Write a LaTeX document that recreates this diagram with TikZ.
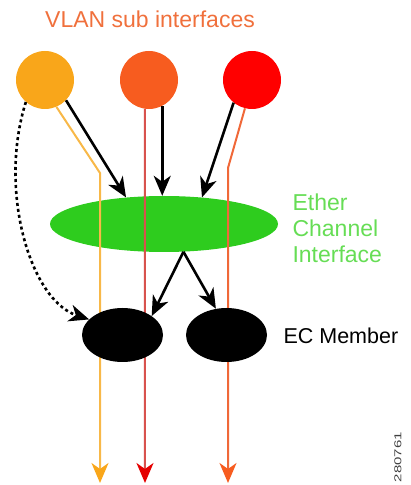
\documentclass[tikz,border=0pt]{standalone}
\usepackage{fontspec}
\setmainfont{Liberation Sans}
\usetikzlibrary{shapes.geometric,arrows.meta}

\definecolor{vlanyellow}{HTML}{F9A61A}
\definecolor{vlanorange}{HTML}{F75C1F}
\definecolor{vlanred}{HTML}{FF0000}
\definecolor{titleorange}{HTML}{F0703C}
\definecolor{ethergreen}{HTML}{2ECC1E}
\definecolor{textgreen}{HTML}{66DD55}
\definecolor{lineyellow}{HTML}{F8B848}
\definecolor{linered}{HTML}{D8524E}
\definecolor{lineorange}{HTML}{F06838}

\tikzset{
  vlan/.style={circle, minimum size=58pt, inner sep=0pt},
  member/.style={ellipse, fill=black, minimum width=81pt, minimum height=54pt, inner sep=0pt},
  flow/.style={black, line width=2.6pt, -{Stealth[length=20pt, width=17pt, inset=6pt]}},
  path/.style={line width=2pt},
}

\begin{document}
\begin{tikzpicture}[x=1pt, y=1pt]
\useasboundingbox (0,0) rectangle (410,485);
% title
    \node[text=titleorange, font=\fontsize{23}{28}\selectfont] (title) at (150,466) {VLAN sub interfaces};
    % sub interfaces
    \node[vlan, fill=vlanyellow] (vlanA) at (45,405) {};
    \node[vlan, fill=vlanorange] (vlanB) at (149,405) {};
    \node[vlan, fill=vlanred] (vlanC) at (252,405) {};
    % ether channel
    \node[ellipse, fill=ethergreen, minimum width=228pt, minimum height=56pt, inner sep=0pt] (ether) at (164,261) {};
    \node[anchor=west, align=left, text=textgreen, font=\fontsize{23}{26}\selectfont] (etherlabel) at (289,257) {Ether\\Channel\\Interface};
    % packet paths
    \coordinate (bendA) at (100,312);
    \coordinate (endA) at (100,2);
    \coordinate (endB) at (145,2);
    \coordinate (bendC) at (228,317);
    \coordinate (endC) at (228,2);
    \draw[path, lineyellow, -{Stealth[length=20pt, width=17pt, inset=6pt, color=vlanyellow]}] (vlanA.-67) -- (bendA) -- (endA);
    \draw[path, linered, -{Stealth[length=20pt, width=17pt, inset=6pt, color=red!90!black]}] (vlanB.-98) -- (endB);
    \draw[path, lineorange, -{Stealth[length=20pt, width=17pt, inset=6pt, color=vlanorange]}] (vlanC.-104) -- (bendC) -- (endC);
    % members
    \node[member] (memA) at (122.5,150) {};
    \node[member] (memB) at (226.5,150) {};
    \node[anchor=west, font=\fontsize{21.5}{26}\selectfont] (memlabel) at (280,149) {EC Member};
    % arrows
    \draw[flow] (vlanA.-44) -- (ether.145);
    \draw[flow] (vlanB.-63) -- (vlanB.-63 |- ether.north);
    \draw[flow] (vlanC.-129) -- (ether.35);
    \draw[flow] (ether.-55) -- (memA.33);
    \draw[flow] (ether.-55) -- (memB.112);
    \draw[flow, dash pattern=on 3pt off 3pt] (vlanA.-131) .. controls (-2,295) and (30,185) .. (memA.155);
    % figure number
    \node[rotate=90, text=black!75, font=\fontsize{10}{10}\selectfont] (fignum) at (398,28) {\scalebox{1.5}[1]{280761}};
\end{tikzpicture}
\end{document}
